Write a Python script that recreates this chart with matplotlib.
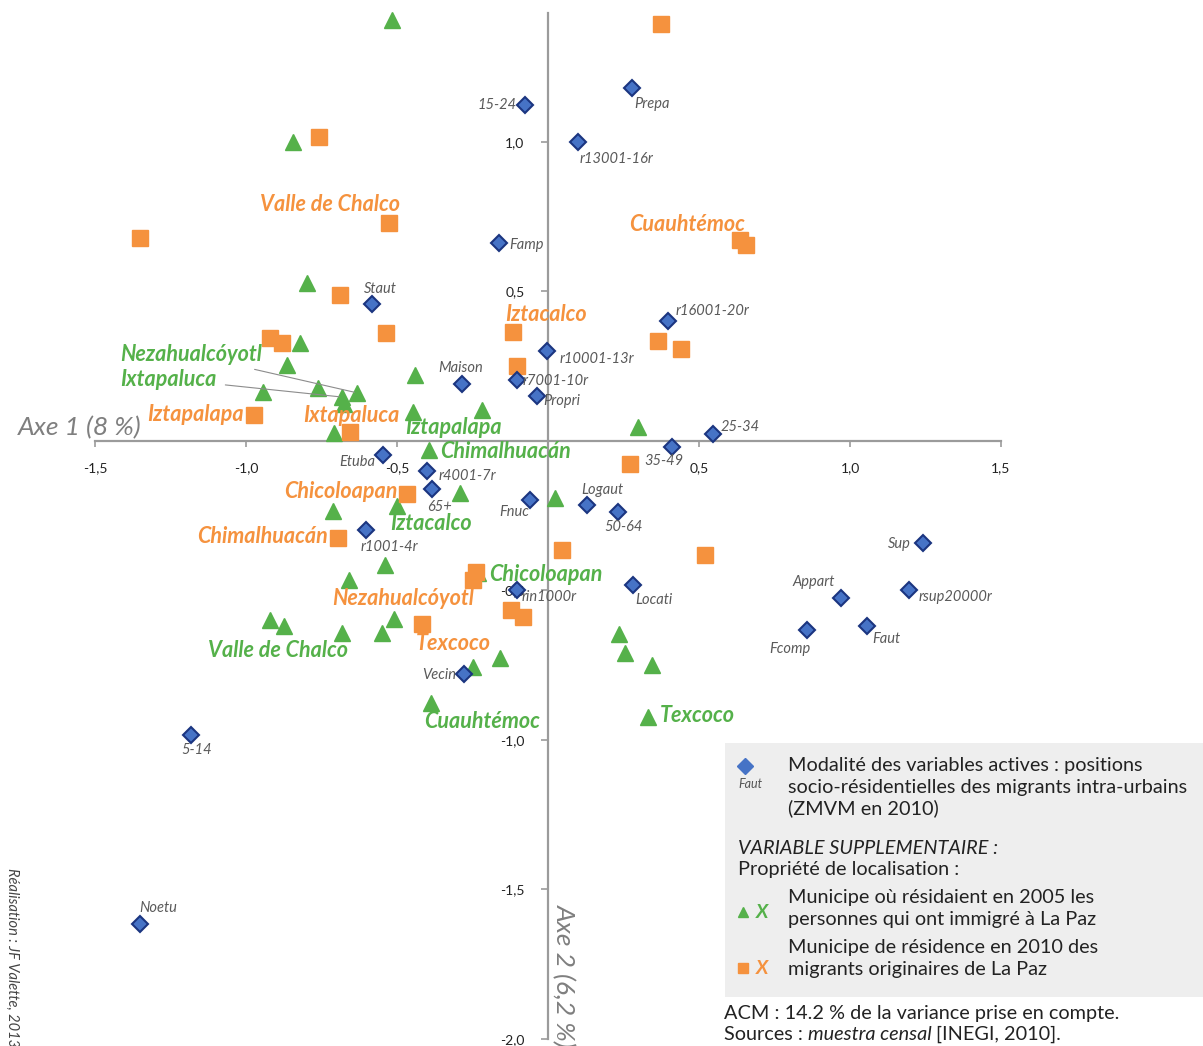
import matplotlib
matplotlib.use("Agg")
import matplotlib.pyplot as plt
from matplotlib.patches import Rectangle

plt.rcParams['font.family'] = ['Lato', 'DejaVu Sans']

# modalites des variables actives
act_names = ['15-24', 'Prepa', 'r13001-16r', 'Famp', 'Staut', 'r16001-20r', 'r10001-13r',
             'Maison', 'r7001-10r', 'Propri', '25-34', '35-49', 'Etuba', 'r4001-7r', '65+',
             'Fnuc', 'Logaut', '50-64', 'r1001-4r', 'rin1000r', 'Locati', 'Sup', 'Appart',
             'rsup20000r', 'Fcomp', 'Faut', 'Vecin', '5-14', 'Noetu']
act_x = [-0.076, 0.278, 0.099, -0.162, -0.583, 0.397, -0.003, -0.285, -0.103, -0.036, 0.546,
         0.411, -0.546, -0.401, -0.384, -0.060, 0.129, 0.232, -0.603, -0.103, 0.281, 1.242,
         0.970, 1.195, 0.858, 1.056, -0.278, -1.182, -1.351]
act_y = [1.124, 1.181, 1.000, 0.662, 0.458, 0.401, 0.301, 0.191, 0.204, 0.150, 0.023,
         -0.020, -0.047, -0.100, -0.161, -0.197, -0.214, -0.237, -0.298, -0.498, -0.482, -0.341,
         -0.525, -0.498, -0.632, -0.619, -0.779, -0.983, -1.615]

# municipe de residence en 2005 (immigres a La Paz)
green_x = [-0.518, -0.844, -0.798, -0.821, -0.864, -0.944, -0.762, -0.682, -0.675, -0.632,
           -0.440, -0.447, -0.219, -0.709, -0.394, 0.298, -0.291, 0.023, -0.500, -0.712,
           -0.540, -0.659, -0.232, -0.921, -0.874, -0.682, -0.550, -0.510, -0.248, -0.159,
           -0.387, 0.235, 0.255, 0.344, 0.331]
green_y = [1.408, 1.000, 0.528, 0.328, 0.254, 0.164, 0.177, 0.147, 0.124, 0.161,
           0.221, 0.097, 0.104, 0.027, -0.030, 0.047, -0.174, -0.191, -0.217, -0.234,
           -0.415, -0.465, -0.441, -0.599, -0.619, -0.642, -0.642, -0.595, -0.756, -0.726,
           -0.876, -0.645, -0.709, -0.749, -0.923]
green_lab = {7: 'Ixtapaluca', 9: 'Nezahualcóyotl', 11: 'Iztapalapa', 14: 'Chimalhuacán',
             18: 'Iztacalco', 22: 'Chicoloapan', 23: 'Valle de Chalco', 30: 'Cuauhtémoc',
             34: 'Texcoco'}

# municipe de residence en 2010 (originaires de La Paz)
orange_x = [0.374, -0.758, -1.351, -0.526, -0.689, -0.536, -0.921, -0.881, -0.974, -0.656,
            -0.116, -0.103, 0.636, 0.656, 0.364, 0.440, 0.272, -0.467, -0.695, 0.046,
            0.520, -0.248, -0.238, -0.123, -0.083, -0.417]
orange_y = [1.395, 1.017, 0.679, 0.729, 0.488, 0.361, 0.344, 0.328, 0.087, 0.030,
            0.365, 0.251, 0.672, 0.656, 0.334, 0.308, -0.077, -0.177, -0.324, -0.365,
            -0.381, -0.465, -0.438, -0.565, -0.589, -0.612]
orange_lab = {3: 'Valle de Chalco', 8: 'Iztapalapa', 9: 'Ixtapaluca', 10: 'Iztacalco',
              12: 'Cuauhtémoc', 17: 'Chicoloapan', 18: 'Chimalhuacán', 21: 'Nezahualcóyotl',
              25: 'Texcoco'}

# label placement in pixels (dx, dy down, ha)
act_off = {'15-24': (-8, 0, 'right'), 'Prepa': (2, 16, 'left'), 'r13001-16r': (2, 17, 'left'),
           'Famp': (10, 2, 'left'), 'Staut': (-8, -15, 'left'), 'r16001-20r': (8, -10, 'left'),
           'r10001-13r': (12, 8, 'left'), 'Maison': (-24, -16, 'left'), 'r7001-10r': (6, 1, 'left'),
           'Propri': (6, 5, 'left'), '25-34': (8, -7, 'left'), '35-49': (-28, 14, 'left'),
           'Etuba': (-8, 7, 'right'), 'r4001-7r': (12, 5, 'left'), '65+': (-5, 18, 'left'),
           'Fnuc': (-31, 12, 'left'), 'Logaut': (-6, -15, 'left'), '50-64': (-14, 15, 'left'),
           'r1001-4r': (-5, 17, 'left'), 'rin1000r': (5, 7, 'left'), 'Locati': (2, 15, 'left'),
           'Sup': (-12, 1, 'right'), 'Appart': (-48, -16, 'left'), 'rsup20000r': (10, 7, 'left'),
           'Fcomp': (-38, 19, 'left'), 'Faut': (5, 13, 'left'), 'Vecin': (-8, 1, 'right'),
           '5-14': (-10, 15, 'left'), 'Noetu': (-1, -16, 'left')}
green_off = {7: (-125, -18, 'right'), 9: (-95, -38, 'right'), 11: (-8, 16, 'left'),
             14: (11, 2, 'left'), 18: (-7, 18, 'left'), 22: (11, 2, 'left'),
             23: (8, 30, 'center'), 30: (-7, 19, 'left'), 34: (12, -1, 'left')}
orange_off = {3: (11, -19, 'right'), 8: (-10, 0, 'right'), 9: (1, -17, 'center'),
              10: (-8, -17, 'left'), 12: (5, -16, 'right'), 17: (-9, -2, 'right'),
              18: (-10, -1, 'right'), 21: (1, 18, 'right'), 25: (-6, 20, 'left')}

blue_fill, blue_edge = '#4673C6', '#1B3580'
green_c, orange_c = '#55B14A', '#F5923E'
grey_axis = '#9B9B9B'
W, H = 1203, 1046

fig = plt.figure(figsize=(W / 100, H / 100), dpi=100)
ax = fig.add_axes([0, 0, 1, 1])
ax.set_xlim(-548 / 302, (W - 548) / 302)
ax.set_ylim((441 - H) / 299, 441 / 299)

for s in ['top', 'right']:
    ax.spines[s].set_visible(False)
for s in ['left', 'bottom']:
    ax.spines[s].set_position(('data', 0))
    ax.spines[s].set_color(grey_axis)
    ax.spines[s].set_linewidth(1.6)
ax.spines['bottom'].set_bounds(-1.5, 1.5)
ax.spines['left'].set_bounds(-2.0, 1.43)

xt = [-1.5, -1.0, -0.5, 0.5, 1.0, 1.5]
yt = [-2.0, -1.5, -1.0, -0.5, 0.5, 1.0]
ax.set_xticks(xt)
ax.set_xticklabels([('%.1f' % v).replace('.', ',') for v in xt])
ax.set_yticks(yt)
ax.set_yticklabels([('%.1f' % v).replace('.', ',') for v in yt])
ax.tick_params(axis='x', direction='out', length=4, width=1.2, color=grey_axis,
               labelsize=10, labelcolor='#222222', pad=11)
ax.tick_params(axis='y', direction='out', length=5, width=1.2, color=grey_axis,
               labelsize=10, labelcolor='#222222', pad=12)

ax.plot(green_x, green_y, '^', ms=11, color=green_c, mec=green_c, zorder=3)
ax.plot(orange_x, orange_y, 's', ms=11.5, color=orange_c, mec=orange_c, zorder=3)
ax.plot(act_x, act_y, 'D', ms=8, color=blue_fill, mec=blue_edge, mew=1.5, zorder=4)

k = 0.72  # px -> pt
for n, x, y in zip(act_names, act_x, act_y):
    dx, dy, ha = act_off[n]
    ax.annotate(n, (x, y), xytext=(dx * k, -dy * k), textcoords='offset points',
                ha=ha, va='center', fontsize=10.5, style='italic', color='#5A5A5A', zorder=5)

for i, n in green_lab.items():
    dx, dy, ha = green_off[i]
    arrow = None
    if i in (7, 9):
        arrow = dict(arrowstyle='-', color='#8C8C8C', lw=0.8, shrinkA=4, shrinkB=2)
    ax.annotate(n, (green_x[i], green_y[i]), xytext=(dx * k, -dy * k), textcoords='offset points',
                ha=ha, va='center', fontsize=15.5, style='italic', weight='bold', color=green_c,
                arrowprops=arrow, zorder=5)

for i, n in orange_lab.items():
    dx, dy, ha = orange_off[i]
    ax.annotate(n, (orange_x[i], orange_y[i]), xytext=(dx * k, -dy * k), textcoords='offset points',
                ha=ha, va='center', fontsize=15.5, style='italic', weight='bold', color=orange_c,
                zorder=5)


def fx(px):
    return px / W


def fy(py):
    return 1 - py / H


# axis titles
fig.text(fx(18), fy(428), 'Axe 1 (8 %)', fontsize=19, style='italic', color='#7F7F7F',
         ha='left', va='center')
fig.text(fx(564), fy(904), 'Axe 2 (6,2 %)', fontsize=19, style='italic', color='#7F7F7F',
         rotation=-90, ha='center', va='top')
fig.text(fx(12), fy(868), 'Réalisation : JF Valette, 2013', fontsize=10.5, style='italic',
         color='#444444', rotation=-90, ha='center', va='top')

# legend box
fig.patches.append(Rectangle((fx(725), fy(997)), 478 / W, 254 / H, transform=fig.transFigure,
                             facecolor='#EEEEEE', edgecolor='none', zorder=0))
txt = dict(fontsize=14.3, color='#222222', va='center', ha='left')
fig.lines.append(plt.Line2D([fx(745)], [fy(766)], marker='D', ms=8, color=blue_fill,
                            mec=blue_fill, transform=fig.transFigure))
fig.text(fx(738), fy(784), 'Faut', fontsize=9, style='italic', color='#555555', va='center')
fig.text(fx(788), fy(766), 'Modalité des variables actives : positions', **txt)
fig.text(fx(788), fy(787), 'socio-résidentielles des migrants intra-urbains', **txt)
fig.text(fx(788), fy(808), '(ZMVM en 2010)', **txt)
fig.text(fx(738), fy(848), 'VARIABLE SUPPLEMENTAIRE :', style='italic', **txt)
fig.text(fx(738), fy(869), 'Propriété de localisation :', **txt)
fig.lines.append(plt.Line2D([fx(743)], [fy(912)], marker='^', ms=7, color=green_c,
                            mec=green_c, transform=fig.transFigure))
fig.text(fx(756), fy(912), 'X', fontsize=14, weight='bold', style='italic', color=green_c,
         va='center')
fig.text(fx(788), fy(898), 'Municipe où résidaient en 2005 les', **txt)
fig.text(fx(788), fy(919), 'personnes qui ont immigré à La Paz', **txt)
fig.lines.append(plt.Line2D([fx(743)], [fy(968)], marker='s', ms=7, color=orange_c,
                            mec=orange_c, transform=fig.transFigure))
fig.text(fx(756), fy(968), 'X', fontsize=14, weight='bold', style='italic', color=orange_c,
         va='center')
fig.text(fx(788), fy(948), 'Municipe de résidence en 2010 des', **txt)
fig.text(fx(788), fy(969), 'migrants originaires de La Paz', **txt)

fig.text(fx(724), fy(1013), 'ACM : 14.2 % de la variance prise en compte.', **txt)
# sources line with italic part
fig.canvas.draw()
r = fig.canvas.get_renderer()
t1 = fig.text(fx(724), fy(1034), 'Sources : ', **txt)
x1 = t1.get_window_extent(r).x1
t2 = fig.text(x1 / W, fy(1034), 'muestra censal', style='italic', **txt)
x2 = t2.get_window_extent(r).x1
fig.text(x2 / W + 4 / W, fy(1034), '[INEGI, 2010].', **txt)

fig.savefig('out.png', dpi=100)
